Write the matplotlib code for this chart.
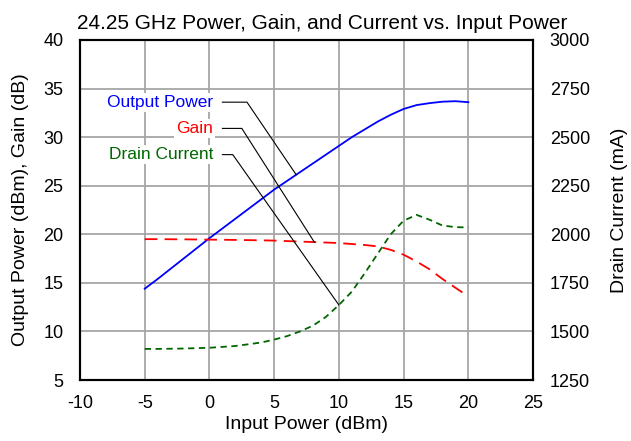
import numpy as np
import matplotlib.pyplot as plt

plt.rcParams['font.family'] = ['Liberation Sans', 'DejaVu Sans']
plt.rcParams['axes.unicode_minus'] = False

# values
pin = [-5, -4, -2, 0, 2, 4, 5, 6, 7, 8, 9, 10, 11, 12, 13, 14, 15, 16, 17, 18, 19, 20]
pout = [14.4, 15.4, 17.5, 19.6, 21.6, 23.6, 24.6, 25.5, 26.4, 27.3, 28.2, 29.1, 30.0, 30.8, 31.6, 32.3, 32.9, 33.3, 33.5, 33.65, 33.7, 33.6]
gain = [19.5, 19.5, 19.48, 19.45, 19.42, 19.38, 19.35, 19.3, 19.25, 19.2, 19.15, 19.1, 19.0, 18.9, 18.75, 18.4, 17.9, 17.2, 16.4, 15.4, 14.5, 13.6]
current = [1410, 1410, 1412, 1416, 1425, 1443, 1458, 1476, 1500, 1530, 1575, 1636, 1705, 1800, 1900, 2000, 2070, 2100, 2075, 2045, 2037, 2035]

title = "24.25 GHz Power, Gain, and Current vs. Input Power"
labels = ["Output Power", "Gain", "Drain Current"]
colors = ["#0000ff", "#ff0000", "#006600"]

fig = plt.figure(figsize=(6.31, 4.41), dpi=100)
ax = fig.add_axes([0.1268, 0.1383, 0.718, 0.771])
ax2 = ax.twinx()

ax.plot(pin, pout, color=colors[0], lw=1.3)
ax.plot(pin, gain, color=colors[1], lw=1.3, dashes=(7, 4))
ax2.plot(pin, current, color=colors[2], lw=1.3, dashes=(3.5, 2.5))

ax.set_xlim(-10, 25)
ax.set_ylim(5, 40)
ax2.set_ylim(1250, 3000)
ax.set_xticks(range(-10, 26, 5))
ax.set_yticks(range(5, 41, 5))
ax2.set_yticks(range(1250, 3001, 250))
ax.grid(True, color="#a6a6a6", lw=1.3)
ax.set_axisbelow(True)
ax.tick_params(axis="x", length=0, labelsize=13, pad=11)
ax.tick_params(axis="y", length=0, labelsize=13, pad=12)
ax2.tick_params(length=0, labelsize=13, pad=12)
for a in (ax, ax2):
    for s in a.spines.values():
        s.set_linewidth(1.5)

ax.set_title(title, fontsize=15, pad=8, x=0.535)
ax.set_xlabel("Input Power (dBm)", fontsize=14, labelpad=3)
ax.set_ylabel("Output Power (dBm), Gain (dB)", fontsize=14, labelpad=10)
ax2.set_ylabel("Drain Current (mA)", fontsize=14, labelpad=15)

# labels with leader lines
text_y = [33.6, 30.9, 28.2]
knee_x = [2.9, 2.5, 1.8]
target_x = [6.7, 8.1, 10.0]
targets = [np.interp(target_x[0], pin, pout),
           np.interp(target_x[1], pin, gain),
           5 + (np.interp(target_x[2], pin, current) - 1250) / 50]
for lab, c, ty, kx, tx, tyy in zip(labels, colors, text_y, knee_x, target_x, targets):
    ax.text(0.3, ty, lab, color=c, fontsize=12.5, ha="right", va="center",
            bbox=dict(facecolor="white", edgecolor="none", pad=1.5))
    ax.plot([1.0, kx, tx], [ty, ty, tyy], color="black", lw=0.8)

fig.savefig("out.png", dpi=100)
